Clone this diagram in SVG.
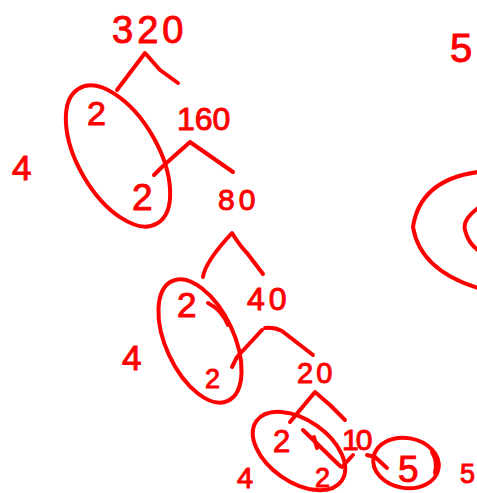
<svg xmlns="http://www.w3.org/2000/svg" width="477" height="493" viewBox="0 0 477 493">
<style>
.ink{fill:none;stroke:#f00;stroke-width:4;stroke-linecap:round;stroke-linejoin:round}
.t{fill:#f00;stroke:#f00;stroke-width:1;font-family:"Liberation Sans","DejaVu Sans",sans-serif}
</style>
<rect width="477" height="493" fill="#fff"/>
<g id="connectors" class="ink">
<path d="M117,90 L145,53 L160,70 L178,83"/>
<path d="M154,175 L162,167 L190,142 L233,172"/>
<path d="M203,277 Q205,262 232,233 Q240,246 247,253 L263,274"/>
<path d="M208,303 Q222,310 228,325"/>
<path d="M232,367 L237,357 L262,330"/>
<path d="M265,328 Q274,327 282,331 L313,355"/>
<path d="M290,422 L315,392 L330,405 L345,420"/>
<path d="M303,430 L340,466"/>
<path d="M314,437 L317,448"/>
<path d="M353,455 L342,467"/>
<path d="M367,455 L375,457 L387,468"/>
</g>
<g id="circles" class="ink">
<ellipse cx="118" cy="156" rx="78" ry="40" transform="rotate(60 118 156)"/>
<ellipse cx="200" cy="341" rx="66" ry="34" transform="rotate(65 200 341)"/>
<ellipse cx="299" cy="451" rx="52" ry="31" transform="rotate(35 299 451)"/>
<ellipse cx="406" cy="463" rx="33" ry="25" transform="rotate(10 406 463)"/>
<path d="M432,452 Q438,462 435,473"/>
<path d="M478,172 Q420,180 413,227 Q420,270 478,288"/>
<path d="M478,208 Q462,220 465,230 Q468,243 478,250"/>
</g>
<g id="n320"><text class="t" x="112" y="43" font-size="38" letter-spacing="4">320</text></g>
<g id="n2a"><text class="t" x="87" y="125" font-size="34">2</text></g>
<g id="n2b"><text class="t" x="132" y="210" font-size="37">2</text></g>
<g id="n160"><text class="t" x="177" y="130" font-size="32">160</text></g>
<g id="n80"><text class="t" x="218" y="210" font-size="30" letter-spacing="4">80</text></g>
<g id="n4a"><text class="t" x="12" y="180" font-size="35">4</text></g>
<g id="n40"><text class="t" x="247" y="310" font-size="32" letter-spacing="4">40</text></g>
<g id="n2c"><text class="t" x="177" y="317" font-size="35">2</text></g>
<g id="n2d"><text class="t" x="205" y="388" font-size="27">2</text></g>
<g id="n4b"><text class="t" x="122" y="370" font-size="35">4</text></g>
<g id="n20"><text class="t" x="297" y="383" font-size="29" letter-spacing="3">20</text></g>
<g id="n2e"><text class="t" x="273" y="452" font-size="31">2</text></g>
<g id="n2f"><text class="t" x="315" y="487" font-size="27">2</text></g>
<g id="n10"><text class="t" x="342" y="450" font-size="30" letter-spacing="-3">10</text></g>
<g id="n5a"><text class="t" x="398" y="482" font-size="37">5</text></g>
<g id="n5b"><text class="t" x="460" y="483" font-size="27">5</text></g>
<g id="n4c"><text class="t" x="237" y="488" font-size="29">4</text></g>
<g id="n5c"><text class="t" x="450" y="62" font-size="40">5</text></g>
</svg>
